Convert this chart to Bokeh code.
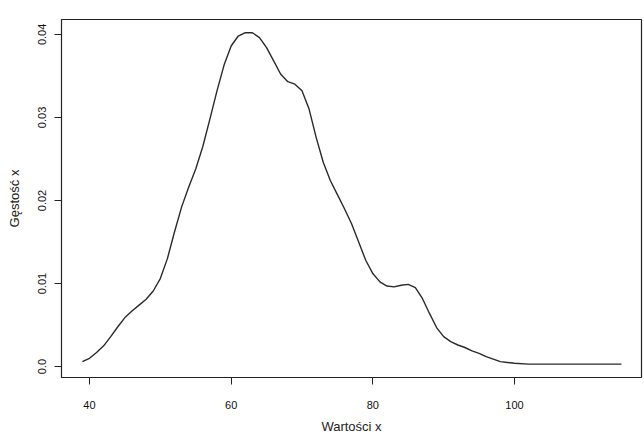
from bokeh.plotting import figure
from bokeh.models import Range1d, FixedTicker
from bokeh.embed import file_html
from bokeh.resources import INLINE

# density curve
dens_x = [39.0, 40.0, 41.0, 42.0, 43.0, 44.0, 45.0, 46.0, 47.0, 48.0, 49.0, 50.0,
          51.0, 52.0, 53.0, 54.0, 55.0, 56.0, 57.0, 58.0, 59.0, 60.0, 61.0, 62.0,
          63.0, 64.0, 65.0, 66.0, 67.0, 68.0, 69.0, 70.0, 71.0, 72.0, 73.0, 74.0,
          75.0, 76.0, 77.0, 78.0, 79.0, 80.0, 81.0, 82.0, 83.0, 84.0, 85.0, 86.0,
          87.0, 88.0, 89.0, 90.0, 91.0, 92.0, 93.0, 94.0, 95.0, 96.0, 97.0, 98.0,
          99.0, 100.0, 102.0, 105.0, 110.0, 115.1]
dens_y = [0.0006, 0.0010, 0.0017, 0.0025, 0.0036, 0.0048, 0.0059, 0.0067, 0.0074,
          0.0081, 0.0091, 0.0106, 0.0130, 0.0162, 0.0192, 0.0216, 0.0238, 0.0265,
          0.0298, 0.0332, 0.0363, 0.0386, 0.0398, 0.0402, 0.0402, 0.0396, 0.0384,
          0.0368, 0.0352, 0.0343, 0.0340, 0.0332, 0.0310, 0.0276, 0.0246, 0.0224,
          0.0207, 0.0190, 0.0172, 0.0150, 0.0128, 0.0112, 0.0102, 0.0097, 0.0096,
          0.0098, 0.0099, 0.0095, 0.0082, 0.0064, 0.0047, 0.0036, 0.0030, 0.0026,
          0.0023, 0.0019, 0.0016, 0.0012, 0.0009, 0.0006, 0.0005, 0.0004, 0.0003,
          0.0003, 0.0003, 0.0003]

x_ticks = [40, 60, 80, 100]
y_ticks = [0.0, 0.01, 0.02, 0.03, 0.04]
y_tick_labels = ["0.0", "0.01", "0.02", "0.03", "0.04"]

p = figure(width=643, height=436, output_backend="svg", toolbar_location=None,
           x_range=Range1d(36.05, 117.93), y_range=Range1d(-0.001313, 0.04179),
           min_border_left=61, min_border_right=2, min_border_top=19,
           min_border_bottom=56)

p.line(dens_x, dens_y, line_color="#2a2a2a", line_width=1.4,
       line_join="round")

p.grid.visible = False
p.outline_line_color = "#222222"
p.outline_line_width = 1.2
p.background_fill_color = "white"
p.border_fill_color = "white"

font = "Liberation Sans"
for ax in (p.xaxis[0], p.yaxis[0]):
    ax.axis_line_color = None
    ax.major_tick_in = 0
    ax.major_tick_out = 7
    ax.major_tick_line_color = "#222222"
    ax.minor_tick_line_color = None
    ax.major_label_text_font = font
    ax.major_label_text_font_size = "11px"
    ax.major_label_text_color = "#111111"
    ax.axis_label_text_font = font
    ax.axis_label_text_font_size = "13px"
    ax.axis_label_text_font_style = "normal"
    ax.axis_label_text_color = "#222222"

p.xaxis[0].ticker = FixedTicker(ticks=x_ticks)
p.xaxis[0].axis_label = "Wartości x"
p.xaxis[0].major_label_standoff = 16
p.xaxis[0].axis_label_standoff = 7

p.yaxis[0].ticker = FixedTicker(ticks=y_ticks)
p.yaxis[0].major_label_overrides = {t: l for t, l in zip(y_ticks, y_tick_labels)}
p.yaxis[0].major_label_orientation = "vertical"
p.yaxis[0].axis_label = "Gęstość x"
p.yaxis[0].major_label_standoff = 8
p.yaxis[0].axis_label_standoff = 14

open("out.html", "w").write(file_html(p, INLINE))
